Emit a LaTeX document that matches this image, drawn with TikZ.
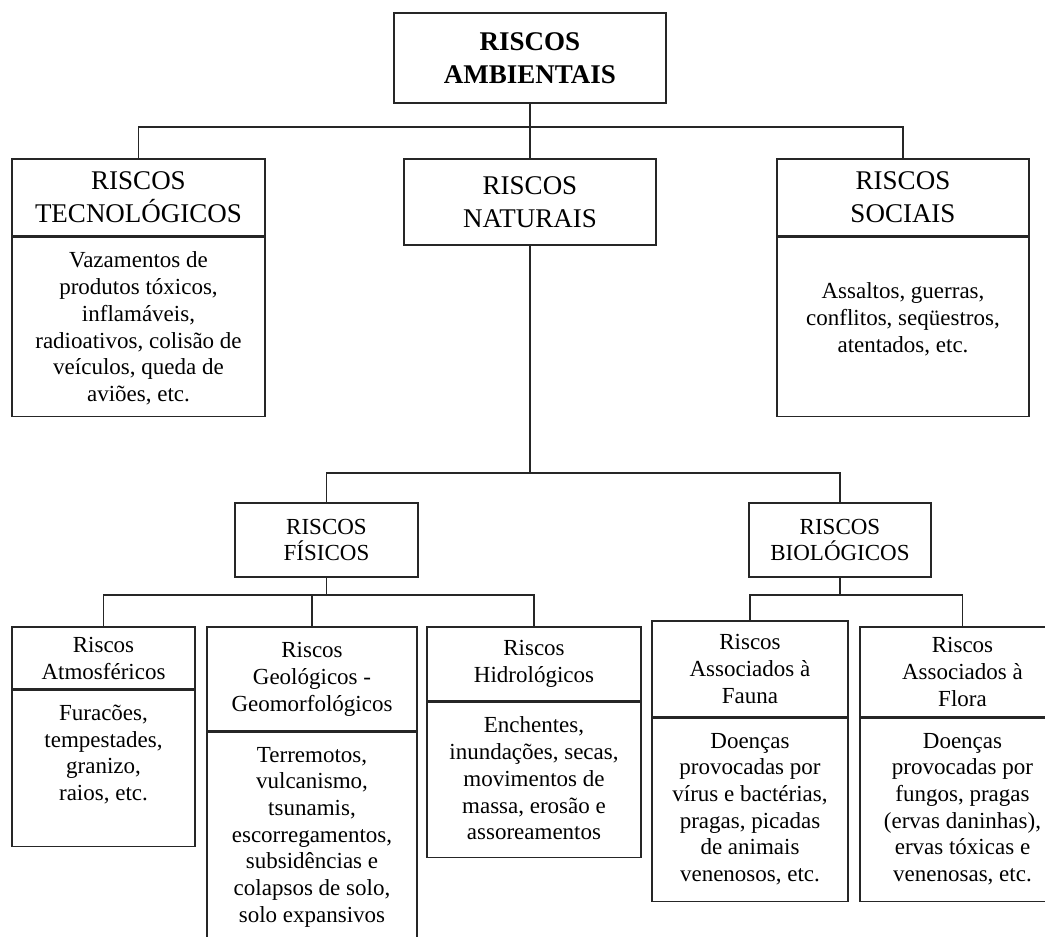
\documentclass[tikz,border=0pt]{standalone}
\usepackage{fontspec}
\setmainfont{Liberation Serif}
\usetikzlibrary{positioning}

\tikzset{
  box/.style={draw=black!85, line width=1.5pt, align=center, inner sep=0pt},
  topfont/.style={font=\fontsize{27}{33}\selectfont\bfseries},
  bigfont/.style={font=\fontsize{27}{33}\selectfont},
  midfont/.style={font=\fontsize{23}{25.7}\selectfont},
  smallfont/.style={font=\fontsize{23}{27}\selectfont},
  bodytext/.style={align=center, inner sep=0pt, font=\fontsize{23}{26.7}\selectfont},
  link/.style={draw=black!85, line width=1.5pt},
}

\begin{document}
\begin{tikzpicture}[x=1pt, y=-1pt]
  \useasboundingbox (0,0) rectangle (1045,937);
  \clip (0,0) rectangle (1045,937);
  \fill[white] (0,0) rectangle (1045,937);

  \node[box, topfont, minimum width=272pt, minimum height=90pt] (amb) at (530,58) {RISCOS\\AMBIENTAIS};

  \node[box, bigfont, minimum width=253pt, minimum height=77pt] (tec) at (138.5,197.5) {RISCOS\\TECNOLÓGICOS};
  \node[box, minimum width=253pt, minimum height=179pt, below=0pt of tec] (tecb) {};
  \node[bodytext, below=15pt of tecb.north] (tect) {Vazamentos de\\produtos tóxicos,\\inflamáveis,\\radioativos, colisão de\\veículos, queda de\\aviões, etc.};

  \node[box, bigfont, minimum width=252pt, minimum height=86pt] (nat) at (530,202) {RISCOS\\NATURAIS};

  \node[box, bigfont, minimum width=252pt, minimum height=77pt] (soc) at (903,197.5) {RISCOS\\SOCIAIS};
  \node[box, minimum width=252pt, minimum height=179pt, below=0pt of soc] (socb) {};
  \node[bodytext, below=46pt of socb.north] (soct) {Assaltos, guerras,\\conflitos, seqüestros,\\atentados, etc.};

  \node[box, midfont, minimum width=183pt, minimum height=74pt] (fis) at (326.5,540) {RISCOS\\FÍSICOS};
  \node[box, midfont, minimum width=182pt, minimum height=74pt] (bio) at (840,540) {RISCOS\\BIOLÓGICOS};

  \node[box, smallfont, minimum width=183pt, minimum height=62pt] (atm) at (103.5,658) {Riscos\\Atmosféricos};
  \node[box, minimum width=183pt, minimum height=156pt, below=0pt of atm] (atmb) {};
  \node[bodytext, below=15pt of atmb.north] (atmt) {Furacões,\\tempestades,\\granizo,\\raios, etc.};

  \node[box, smallfont, minimum width=210pt, minimum height=104pt] (geo) at (312,679) {Riscos\\Geológicos -\\Geomorfológicos};
  \node[box, minimum width=210pt, minimum height=240pt, below=0pt of geo] (geob) {};
  \node[bodytext, below=15pt of geob.north] (geot) {Terremotos,\\vulcanismo,\\tsunamis,\\escorregamentos,\\subsidências e\\colapsos de solo,\\solo expansivos};

  \node[box, smallfont, minimum width=214pt, minimum height=74pt] (hid) at (534,664) {Riscos\\Hidrológicos};
  \node[box, minimum width=214pt, minimum height=155pt, below=0pt of hid] (hidb) {};
  \node[bodytext, below=15pt of hidb.north] (hidt) {Enchentes,\\inundações, secas,\\movimentos de\\massa, erosão e\\assoreamentos};

  \node[box, smallfont, minimum width=196pt, minimum height=96pt] (fau) at (750,669) {Riscos\\Associados à\\Fauna};
  \node[box, minimum width=196pt, minimum height=183pt, below=0pt of fau] (faub) {};
  \node[bodytext, below=15pt of faub.north] (faut) {Doenças\\provocadas por\\vírus e bactérias,\\pragas, picadas\\de animais\\venenosos, etc.};

  \node[box, smallfont, minimum width=205pt, minimum height=90pt] (flo) at (962.5,672) {Riscos\\Associados à\\Flora};
  \node[box, minimum width=205pt, minimum height=183pt, below=0pt of flo] (flob) {};
  \node[bodytext, below=15pt of flob.north] (flot) {Doenças\\provocadas por\\fungos, pragas\\(ervas daninhas),\\ervas tóxicas e\\venenosas, etc.};

  \draw[link] (amb.south) -- ++(0,23) coordinate (j1);
  \draw[link] (tec.north) |- (j1) -| (soc.north);
  \draw[link] (j1) -- (nat.north);

  \draw[link] (nat.south) -- ++(0,227) coordinate (j2);
  \draw[link] (fis.north) |- (j2) -| (bio.north);

  \draw[link] (fis.south) -- ++(0,17) coordinate (j3);
  \draw[link] (atm.north) |- (j3) -| (hid.north);
  \draw[link] (j3) -| (geo.north);

  \draw[link] (bio.south) -- ++(0,17) coordinate (j4);
  \draw[link] (fau.north) |- (j4) -| (flo.north);
\end{tikzpicture}
\end{document}
